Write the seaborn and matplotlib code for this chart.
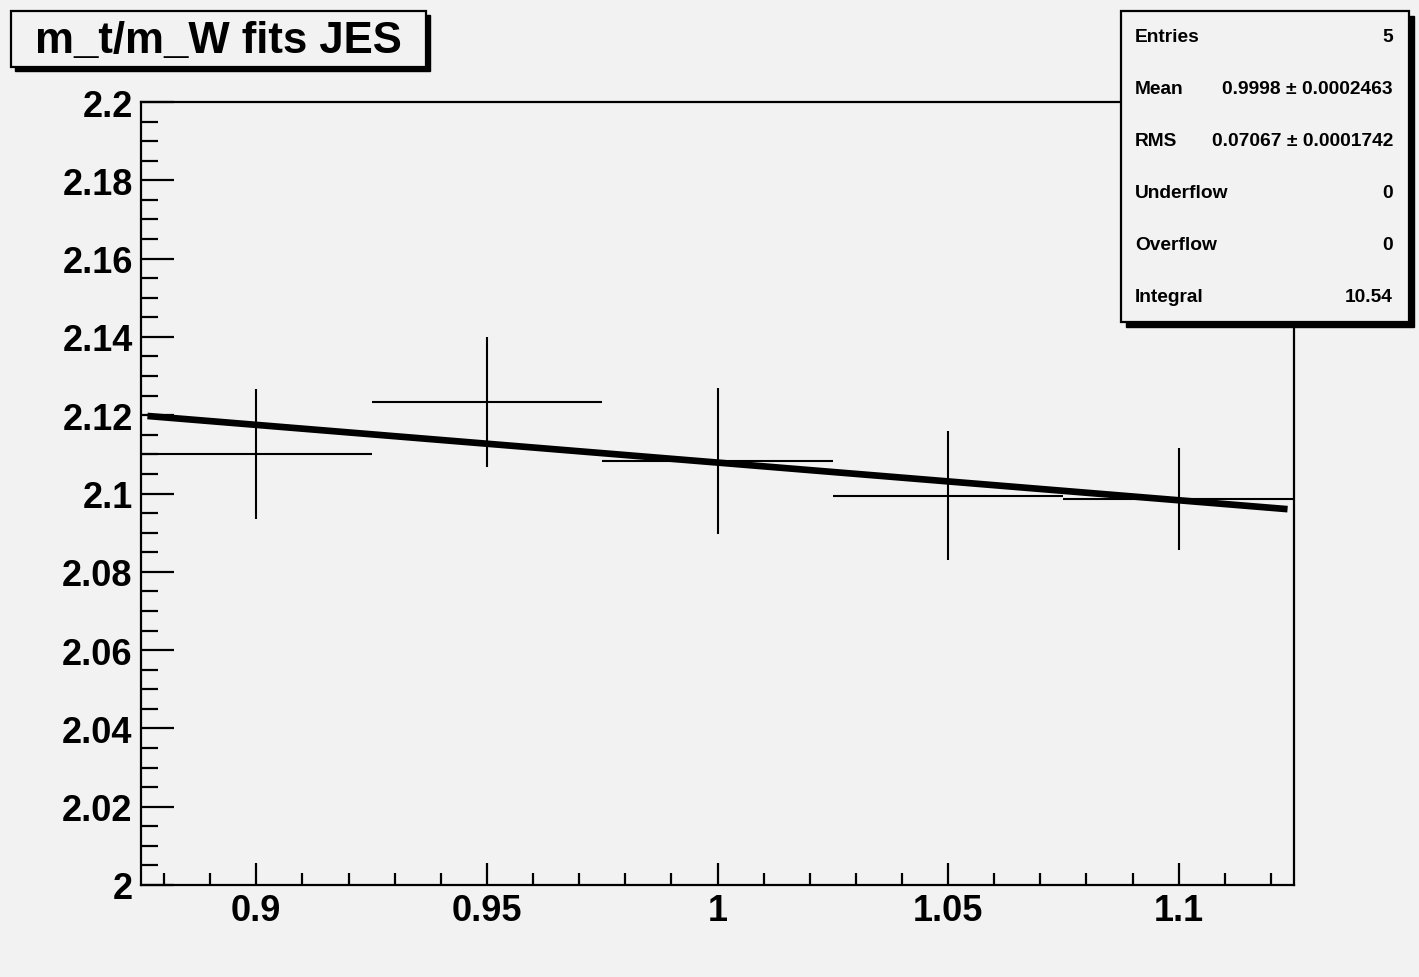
import numpy as np
import matplotlib
matplotlib.use("Agg")
import matplotlib.pyplot as plt
import seaborn as sns
from matplotlib.patches import Rectangle
from matplotlib.ticker import MultipleLocator, FixedLocator, FixedFormatter

# ---- data ----
bin_centers = [0.90, 0.95, 1.00, 1.05, 1.10]
bin_values = [2.1101, 2.1234, 2.1083, 2.0994, 2.0986]
bin_errors = [0.0167, 0.0166, 0.0186, 0.0165, 0.0130]
bin_half_width = 0.025
fit_x = [0.8764, 1.1236]
fit_y = [2.1198, 2.0960]
x_ticks = [0.90, 0.95, 1.00, 1.05, 1.10]
x_tick_labels = ["0.9", "0.95", "1", "1.05", "1.1"]
y_ticks = [2.00, 2.02, 2.04, 2.06, 2.08, 2.10, 2.12, 2.14, 2.16, 2.18, 2.20]
y_tick_labels = ["2", "2.02", "2.04", "2.06", "2.08", "2.1", "2.12", "2.14", "2.16", "2.18", "2.2"]
title = "m_t/m_W fits JES"
stat_names = ["Entries", "Mean", "RMS", "Underflow", "Overflow", "Integral"]
stat_values = ["5", "0.9998 ± 0.0002463", "0.07067 ± 0.0001742", "0", "0", "10.54"]

W, H = 1419, 978
BG = "#f2f2f2"

sns.set_theme(style="ticks")
plt.rcParams["font.family"] = ["Liberation Sans", "DejaVu Sans"]
plt.rcParams["font.weight"] = "bold"
plt.rcParams["text.color"] = "black"
plt.rcParams["xtick.color"] = "black"
plt.rcParams["ytick.color"] = "black"
plt.rcParams["xtick.labelcolor"] = "black"
plt.rcParams["ytick.labelcolor"] = "black"

fig = plt.figure(figsize=(W / 100, H / 100), dpi=100, facecolor=BG)

def fx(x):
    return x / W

def fy(y):
    return 1 - y / H

ax = fig.add_axes([fx(141), fy(886), fx(1294) - fx(141), fy(103) - fy(886)])
ax.set_facecolor(BG)

# data points with error bars
ax.errorbar(bin_centers, bin_values, yerr=bin_errors, xerr=bin_half_width,
            fmt="none", ecolor="black", elinewidth=1.5, capsize=0, zorder=3)

# fit line
sns.lineplot(x=fit_x, y=fit_y, ax=ax, color="black", linewidth=4.8, zorder=4,
             solid_capstyle="butt")

ax.set_xlim(0.875, 1.125)
ax.set_ylim(2.0, 2.2)

ax.xaxis.set_major_locator(FixedLocator(x_ticks))
ax.xaxis.set_major_formatter(FixedFormatter(x_tick_labels))
ax.xaxis.set_minor_locator(MultipleLocator(0.01))
ax.yaxis.set_major_locator(FixedLocator(y_ticks))
ax.yaxis.set_major_formatter(FixedFormatter(y_tick_labels))
ax.yaxis.set_minor_locator(MultipleLocator(0.005))

ax.tick_params(axis="both", which="both", direction="in", color="black",
               labelcolor="black", top=False, right=False)
ax.tick_params(axis="x", which="major", length=16, width=1.6, labelsize=26, pad=6)
ax.tick_params(axis="x", which="minor", length=8.5, width=1.6)
ax.tick_params(axis="y", which="major", length=24, width=1.6, labelsize=26, pad=6)
ax.tick_params(axis="y", which="minor", length=12, width=1.6)
for lab in ax.get_xticklabels() + ax.get_yticklabels():
    lab.set_fontweight("bold")

for s in ax.spines.values():
    s.set_visible(True)
    s.set_color("black")
    s.set_linewidth(1.6)

ax.set_xlabel("")
ax.set_ylabel("")

# boxes with shadow
def box(x0, y0, x1, y1, sh):
    fig.patches.append(Rectangle((fx(x0 + sh), fy(y1 + sh)), fx(x1) - fx(x0), fy(y0) - fy(y1),
                                 transform=fig.transFigure, facecolor="black",
                                 edgecolor="black", zorder=5))
    fig.patches.append(Rectangle((fx(x0), fy(y1)), fx(x1) - fx(x0), fy(y0) - fy(y1),
                                 transform=fig.transFigure, facecolor=BG,
                                 edgecolor="black", linewidth=1.6, zorder=6))

box(11, 12, 426, 68, 4)
fig.text(fx(218), fy(42), title, ha="center", va="center", fontsize=31.5,
         fontweight="bold", color="black", zorder=7)

box(1121, 12, 1409, 323, 5)
rows_y = [37, 89, 142, 194, 246, 298]
for name, val, yy in zip(stat_names, stat_values, rows_y):
    fig.text(fx(1135), fy(yy), name, ha="left", va="center", fontsize=13.8,
             fontweight="bold", color="black", zorder=7)
    fig.text(fx(1393), fy(yy), val, ha="right", va="center", fontsize=13.8,
             fontweight="bold", color="black", zorder=7)

fig.savefig("out.png", dpi=100, facecolor=BG)
